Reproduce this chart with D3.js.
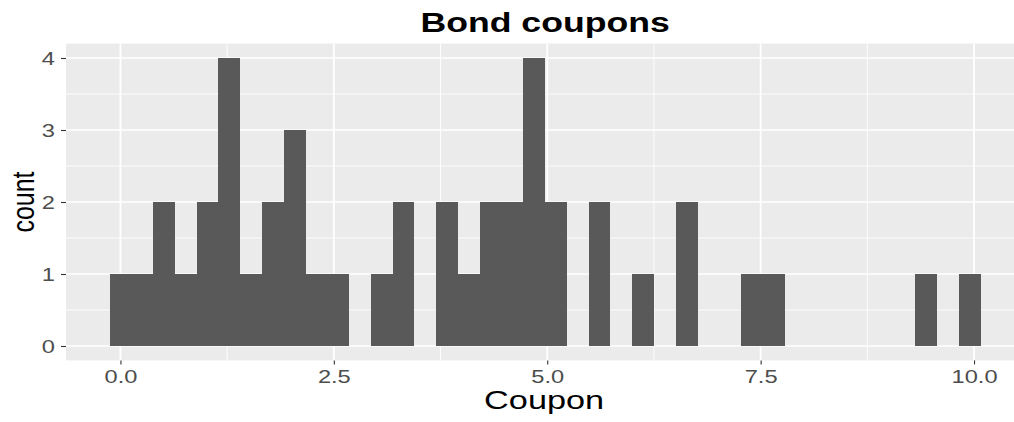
<!DOCTYPE html>
<html>
<head>
<meta charset="utf-8">
<script src="https://cdn.jsdelivr.net/npm/d3@7"></script>
<style>
  html, body { margin: 0; padding: 0; background: #ffffff; }
  svg { display: block; }
  text { font-family: "Liberation Sans", Arial, Helvetica, sans-serif; }
</style>
</head>
<body>
<svg id="chart" width="1014" height="422"></svg>
<script>
// Histogram of bond coupons: 40 equal-width bins, first bin centred at 0.
const binCounts = [1, 1, 2, 1, 2, 4, 1, 2, 3, 1,
                   1, 0, 1, 2, 0, 2, 1, 2, 2, 4,
                   2, 0, 2, 0, 1, 0, 2, 0, 0, 1,
                   1, 0, 0, 0, 0, 0, 0, 1, 0, 1];
const couponMin = 0;
const couponMax = 9.95;
const binWidth = (couponMax - couponMin) / (binCounts.length - 1);

const xTicks = [0, 2.5, 5, 7.5, 10];
const xMinor = [1.25, 3.75, 6.25, 8.75];
const yTicks = [0, 1, 2, 3, 4];
const yMinor = [0.5, 1.5, 2.5, 3.5];

const titleText = "Bond coupons";
const xTitle = "Coupon";
const yTitle = "count";

const bins = binCounts.map((count, i) => {
  const centre = couponMin + i * binWidth;
  return { x0: centre - binWidth / 2, x1: centre + binWidth / 2, count };
});

const svg = d3.select("#chart");
const panel = { left: 66, right: 1024.2, top: 43.6, bottom: 360.4 };

// ggplot-style 5% expansion on both axes
const xLo = bins[0].x0, xHi = bins[bins.length - 1].x1;
const xPad = (xHi - xLo) * 0.05;
const x = d3.scaleLinear().domain([xLo - xPad, xHi + xPad]).range([panel.left, panel.right]);
const yMax = d3.max(binCounts);
const y = d3.scaleLinear().domain([-yMax * 0.05, yMax * 1.05]).range([panel.bottom, panel.top]);

// Panel background
svg.append("rect")
  .attr("x", panel.left).attr("y", panel.top)
  .attr("width", panel.right - panel.left).attr("height", panel.bottom - panel.top)
  .attr("fill", "#EBEBEB");

const grid = svg.append("g").attr("stroke", "#ffffff");
grid.selectAll("line.xminor").data(xMinor).join("line")
  .attr("x1", d => x(d)).attr("x2", d => x(d))
  .attr("y1", panel.top).attr("y2", panel.bottom).attr("stroke-width", 0.9);
grid.selectAll("line.yminor").data(yMinor).join("line")
  .attr("y1", d => y(d)).attr("y2", d => y(d))
  .attr("x1", panel.left).attr("x2", panel.right).attr("stroke-width", 0.8);
grid.selectAll("line.xmajor").data(xTicks).join("line")
  .attr("x1", d => x(d)).attr("x2", d => x(d))
  .attr("y1", panel.top).attr("y2", panel.bottom).attr("stroke-width", 1.8);
grid.selectAll("line.ymajor").data(yTicks).join("line")
  .attr("y1", d => y(d)).attr("y2", d => y(d))
  .attr("x1", panel.left).attr("x2", panel.right).attr("stroke-width", 1.5);

// Bars (crisp edges so neighbouring bins join without seams)
svg.append("g").attr("shape-rendering", "crispEdges")
  .selectAll("rect").data(bins.filter(b => b.count > 0)).join("rect")
  .attr("x", d => x(d.x0))
  .attr("width", d => x(d.x1) - x(d.x0))
  .attr("y", d => y(d.count))
  .attr("height", d => y(0) - y(d.count))
  .attr("fill", "#595959");

// Axes: ticks and labels
const xAxis = d3.axisBottom(x).tickValues(xTicks).tickSize(4).tickFormat(d3.format(".1f"));
const xg = svg.append("g").attr("transform", `translate(0,${panel.bottom})`).call(xAxis);
xg.select(".domain").remove();
xg.selectAll(".tick line").attr("stroke", "#333333").attr("stroke-width", 1.1);
xg.selectAll(".tick text")
  .attr("y", 0).attr("dy", 0)
  .attr("transform", "translate(0,23) scale(1.28,1)")
  .attr("fill", "#4D4D4D").style("font-size", "18.5px")
  .attr("text-anchor", "middle");

const yAxis = d3.axisLeft(y).tickValues(yTicks).tickSize(5).tickFormat(d3.format("d"));
const yg = svg.append("g").attr("transform", `translate(${panel.left},0)`).call(yAxis);
yg.select(".domain").remove();
yg.selectAll(".tick line").attr("stroke", "#333333").attr("stroke-width", 1.1);
yg.selectAll(".tick text")
  .attr("x", 0).attr("dy", 0)
  .attr("transform", "translate(-11,6.6) scale(1.28,1)")
  .attr("fill", "#4D4D4D").style("font-size", "18.5px")
  .attr("text-anchor", "end");

// Titles
svg.append("text")
  .attr("transform", `translate(${(panel.left + panel.right) / 2},32.3) scale(1.3,1)`)
  .attr("text-anchor", "middle")
  .style("font-size", "27.4px").style("font-weight", "bold")
  .attr("fill", "#000000")
  .text(titleText);

svg.append("text")
  .attr("transform", `translate(${(panel.left + panel.right) / 2 - 1},409.3) scale(1.33,1)`)
  .attr("text-anchor", "middle")
  .style("font-size", "25.8px")
  .attr("fill", "#000000")
  .text(xTitle);

svg.append("text")
  .attr("transform", `translate(34.3,${(panel.top + panel.bottom) / 2}) scale(1.25,1) rotate(-90)`)
  .attr("text-anchor", "middle")
  .style("font-size", "25px")
  .attr("fill", "#000000")
  .text(yTitle);
</script>
</body>
</html>
